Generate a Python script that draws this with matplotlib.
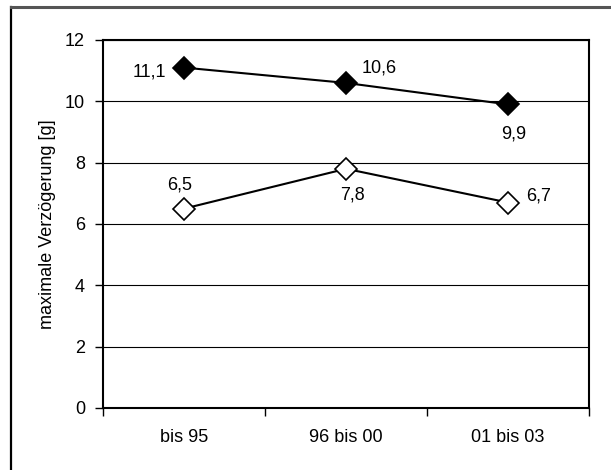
import numpy as np
import matplotlib.pyplot as plt
from matplotlib.lines import Line2D

plt.rcParams['font.family'] = ['Liberation Sans', 'DejaVu Sans']

# Daten
kategorien = ['bis 95', '96 bis 00', '01 bis 03']
werte_schwarz = [11.1, 10.6, 9.9]
werte_weiss = [6.5, 7.8, 6.7]
label_schwarz = ['11,1', '10,6', '9,9']
label_weiss = ['6,5', '7,8', '6,7']

fs = 13

fig = plt.figure(figsize=(6.11, 4.70), dpi=100)
ax = fig.add_axes([103/611, 62/470, 486/611, 368/470])

x = np.arange(len(kategorien))
ax.plot(x, werte_schwarz, color='black', lw=1.5, marker='D', ms=11,
        mfc='black', mec='black', mew=1.2, zorder=3)
ax.plot(x, werte_weiss, color='black', lw=1.5, marker='D', ms=11,
        mfc='white', mec='black', mew=1.2, zorder=3)

# Beschriftungen (Offsets in Punkten)
off_s = [(-13, -3, 'right', 'center'), (11, 11, 'left', 'center'), (4, -15, 'center', 'top')]
off_w = [(-3, 11, 'center', 'bottom'), (5, -13, 'center', 'top'), (13, 5, 'left', 'center')]
for i in range(3):
    dx, dy, ha, va = off_s[i]
    ax.annotate(label_schwarz[i], (x[i], werte_schwarz[i]), xytext=(dx, dy),
                textcoords='offset points', ha=ha, va=va, fontsize=fs)
    dx, dy, ha, va = off_w[i]
    ax.annotate(label_weiss[i], (x[i], werte_weiss[i]), xytext=(dx, dy),
                textcoords='offset points', ha=ha, va=va, fontsize=fs)

ax.set_xlim(-0.5, 2.5)
ax.set_ylim(0, 12)
ax.set_yticks(range(0, 13, 2))
ax.yaxis.grid(True, color='black', lw=0.8)
ax.set_axisbelow(True)

ax.set_xticks(x)
ax.set_xticklabels(kategorien)
ax.set_xticks([-0.5, 0.5, 1.5, 2.5], minor=True)
ax.tick_params(axis='x', which='major', length=0, pad=15, labelsize=fs)
ax.tick_params(axis='x', which='minor', length=6, width=1, direction='out')
ax.tick_params(axis='y', length=6, width=1, direction='out', pad=7, labelsize=fs)

for s in ax.spines.values():
    s.set_linewidth(1.5)
    s.set_color('black')

ax.set_ylabel('maximale Verzögerung [g]', fontsize=fs, labelpad=6)

# Rahmen
fig.add_artist(Line2D([11/611, 11/611], [0, 463/470], color='black', lw=1.6,
                      transform=fig.transFigure))
fig.add_artist(Line2D([11/611, 1], [463/470, 463/470], color='#555555', lw=2.2,
                      transform=fig.transFigure))

fig.savefig('out.png', dpi=100)
